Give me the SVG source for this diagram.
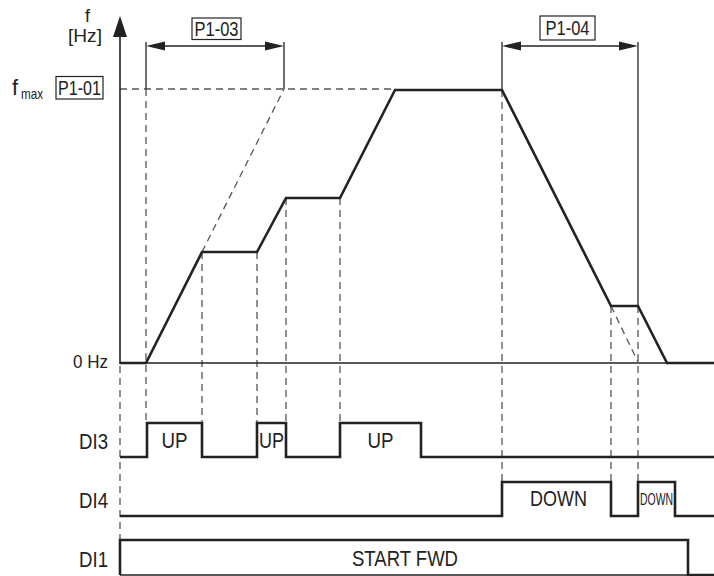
<svg xmlns="http://www.w3.org/2000/svg" width="714" height="576" viewBox="0 0 714 576">
<style>
.t{font-family:"Liberation Sans",Arial,sans-serif;fill:#222}
.thin{stroke:#222;stroke-width:1.3;fill:none}
.thick{stroke:#222;stroke-width:2.6;fill:none;stroke-linejoin:miter}
.dash{stroke:#555;stroke-width:1.3;fill:none;stroke-dasharray:7,5}
.box{stroke:#222;stroke-width:1.2;fill:#fff}
.ah{fill:#222}
</style>
<rect width="714" height="576" fill="#fff"/>

<g id="connectors">
  <line class="dash" x1="120" y1="89" x2="395" y2="89"/>
  <line class="dash" x1="202" y1="252" x2="284" y2="89"/>
  <line class="dash" x1="611" y1="306" x2="638" y2="362"/>
  <line class="dash" x1="120" y1="366" x2="120" y2="540"/>
  <line class="dash" x1="146" y1="89" x2="146" y2="423"/>
  <line class="dash" x1="202" y1="252" x2="202" y2="423"/>
  <line class="dash" x1="257" y1="252" x2="257" y2="423"/>
  <line class="dash" x1="286" y1="198" x2="286" y2="423"/>
  <line class="dash" x1="340" y1="198" x2="340" y2="423"/>
  <line class="dash" x1="502" y1="90" x2="502" y2="482"/>
  <line class="dash" x1="611" y1="306" x2="611" y2="482"/>
  <line class="dash" x1="638" y1="306" x2="638" y2="482"/>

  <line class="thin" x1="120" y1="30" x2="120" y2="364" style="stroke-width:1.6"/>
  <polygon class="ah" points="120,16 113,37 127,37"/>

  <line class="thin" x1="146" y1="363" x2="714" y2="363"/>

  <line class="thin" x1="146" y1="42" x2="146" y2="89"/>
  <line class="thin" x1="284" y1="42" x2="284" y2="89"/>
  <line class="thin" x1="160" y1="46" x2="270" y2="46"/>
  <polygon class="ah" points="146,46 165,41.5 165,50.5"/>
  <polygon class="ah" points="284,46 265,41.5 265,50.5"/>

  <line class="thin" x1="502" y1="42" x2="502" y2="90"/>
  <line class="thin" x1="638" y1="42" x2="638" y2="306"/>
  <line class="thin" x1="516" y1="46" x2="624" y2="46"/>
  <polygon class="ah" points="502,46 521,41.5 521,50.5"/>
  <polygon class="ah" points="638,46 619,41.5 619,50.5"/>

  <polyline class="thick" points="120,363 146,363 202,252 257,252 286,198 340,198 395,90 502,90 611,306 638,306 667,363 714,363"/>

  <polyline class="thick" points="120,457 147,457 147,423 202,423 202,457 257,457 257,423 286,423 286,457 340,457 340,423 421,423 421,457 714,457"/>
  <polyline class="thick" points="120,516 502,516 502,482 611,482 611,516 638,516 638,482 675,482 675,516 714,516"/>
  <polyline class="thick" points="120,575 120,540 688,540 688,575 714,575"/>
  <line class="thin" x1="120" y1="575" x2="688" y2="575"/>
</g>

<g id="axis-labels">
  <text class="t" x="85" y="22" font-size="18">f</text>
  <text class="t" x="68" y="42" font-size="19" textLength="34" lengthAdjust="spacingAndGlyphs">[Hz]</text>
  <text class="t" x="12" y="95" font-size="22">f</text>
  <text class="t" x="21" y="99" font-size="15" textLength="22" lengthAdjust="spacingAndGlyphs">max</text>
  <text class="t" x="108" y="368" font-size="19" text-anchor="end" textLength="35" lengthAdjust="spacingAndGlyphs">0 Hz</text>
  <text class="t" x="108" y="449" font-size="22" text-anchor="end" textLength="29" lengthAdjust="spacingAndGlyphs">DI3</text>
  <text class="t" x="108" y="508" font-size="22" text-anchor="end" textLength="29" lengthAdjust="spacingAndGlyphs">DI4</text>
  <text class="t" x="108" y="567" font-size="22" text-anchor="end" textLength="29" lengthAdjust="spacingAndGlyphs">DI1</text>
</g>

<g id="p1-01">
  <rect class="box" x="56" y="76.5" width="47" height="22.5"/>
  <text class="t" x="79.5" y="95" font-size="20" text-anchor="middle" textLength="43" lengthAdjust="spacingAndGlyphs">P1-01</text>
</g>
<g id="p1-03">
  <rect class="box" x="192" y="18" width="49" height="21.5"/>
  <text class="t" x="216.5" y="36" font-size="20" text-anchor="middle" textLength="44" lengthAdjust="spacingAndGlyphs">P1-03</text>
</g>
<g id="p1-04">
  <rect class="box" x="540" y="16" width="55" height="24"/>
  <text class="t" x="567.5" y="35" font-size="20" text-anchor="middle" textLength="44" lengthAdjust="spacingAndGlyphs">P1-04</text>
</g>

<g id="signal-labels">
  <text class="t" x="174.5" y="448" font-size="22" text-anchor="middle" textLength="26" lengthAdjust="spacingAndGlyphs">UP</text>
  <text class="t" x="271.5" y="448" font-size="22" text-anchor="middle" textLength="25" lengthAdjust="spacingAndGlyphs">UP</text>
  <text class="t" x="380.5" y="448" font-size="22" text-anchor="middle" textLength="26" lengthAdjust="spacingAndGlyphs">UP</text>
  <text class="t" x="558.5" y="506" font-size="22" text-anchor="middle" textLength="57" lengthAdjust="spacingAndGlyphs">DOWN</text>
  <text class="t" x="656.5" y="505" font-size="17" text-anchor="middle" textLength="33" lengthAdjust="spacingAndGlyphs">DOWN</text>
  <text class="t" x="405" y="566" font-size="22" text-anchor="middle" textLength="106" lengthAdjust="spacingAndGlyphs">START FWD</text>
</g>
</svg>
